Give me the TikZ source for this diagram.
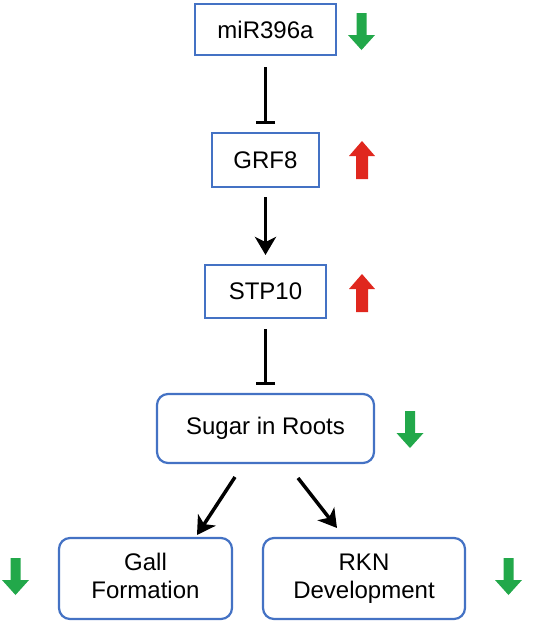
\documentclass[tikz,border=0pt]{standalone}
\usepackage{fontspec}
\setmainfont{Liberation Sans}
\usetikzlibrary{arrows.meta}
\definecolor{boxblue}{HTML}{4472C4}
\definecolor{upred}{HTML}{E0271E}
\definecolor{downgreen}{HTML}{22A84A}
\begin{document}
\begin{tikzpicture}[x=1pt,y=-1pt,
  every node/.style={font=\fontsize{24}{28}\selectfont, inner sep=0pt, outer sep=0pt},
  sqbox/.style={draw=boxblue, line width=2.2pt, fill=white, rectangle},
  rbox/.style={draw=boxblue, line width=2.2pt, fill=white, rectangle, rounded corners=11pt, align=center},
  actarr/.style={line width=3.5pt, -{Stealth[length=18pt,width=21pt,inset=5pt]}},
  inharr/.style={line width=3.5pt, -{Bar[width=19pt]}},
  downarr/.pic={\fill[downgreen] (-5,0) -- (5,0) -- (5,22) -- (13.5,22) -- (0,37) -- (-13.5,22) -- (-5,22) -- cycle;},
  uparr/.pic={\fill[upred] (-6,0) -- (6,0) -- (6,-23) -- (13,-23) -- (0,-38) -- (-13,-23) -- (-6,-23) -- cycle;}
]
\useasboundingbox (0,0) rectangle (541,622);

\node[sqbox, minimum width=141pt, minimum height=51pt] (mir) at (265.5,29.5) {miR396a};
\node[sqbox, minimum width=107pt, minimum height=54pt] (grf) at (265.5,160) {GRF8};
\node[sqbox, minimum width=121pt, minimum height=53pt] (stp) at (265.5,291.5) {STP10};
\node[rbox, minimum width=217pt, minimum height=69pt] (sugar) at (265.5,428.5) {Sugar in Roots};
\node[rbox, minimum width=173pt, minimum height=81pt] (gall) at (145.5,578.5) {Gall\\Formation\vphantom{p}};
\node[rbox, minimum width=202pt, minimum height=81pt] (rkn) at (364,578.5) {RKN\\Development};

\draw[inharr] ([yshift=-12pt]mir.south) -- ([yshift=9pt]grf.north);
\draw[actarr] ([yshift=-10pt]grf.south) -- ([yshift=10pt]stp.north);
\draw[inharr] ([yshift=-11pt]stp.south) -- ([yshift=9pt]sugar.north);
\draw[actarr] ([xshift=-30.5pt,yshift=-14pt]sugar.south) -- ([xshift=51.5pt,yshift=3pt]gall.north);
\draw[actarr] ([xshift=32.5pt,yshift=-15pt]sugar.south) -- ([xshift=-27pt,yshift=10pt]rkn.north);

\pic at (361.5,13) {downarr};
\pic at (362,179) {uparr};
\pic at (362,312) {uparr};
\pic at (410,411) {downarr};
\pic at (15.5,558) {downarr};
\pic at (508.5,558) {downarr};
\end{tikzpicture}
\end{document}
